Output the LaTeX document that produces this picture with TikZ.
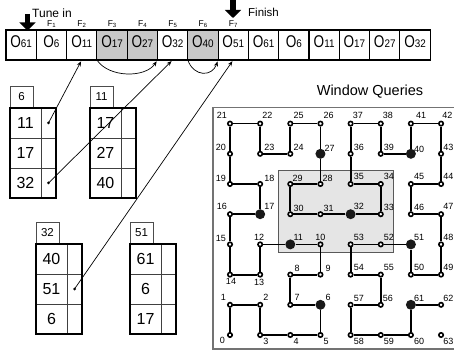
\documentclass[tikz,border=0pt]{standalone}
\usepackage{fontspec}
\setmainfont{Liberation Sans}
\usetikzlibrary{arrows.meta}
\definecolor{cellgray}{RGB}{200,200,200}
\newcommand\Obj[1]{{\fontsize{17}{17}\selectfont\scalebox{0.8}[1]{O}}{\fontsize{11}{11}\selectfont\scalebox{0.9}[1]{#1}}}
\newcommand\Flab[1]{F\raisebox{-0.8pt}{\fontsize{6}{6}\selectfont #1}}
\tikzset{
  arrcell/.style={draw, line width=1.1pt, minimum width=30.3pt, minimum height=30pt, inner sep=0pt, outer sep=0pt, text height=12pt, text depth=6pt},
  flabel/.style={font=\fontsize{8.5}{8.5}\selectfont, inner sep=0pt, anchor=base},
  keycell/.style={draw=black!75, line width=0.7pt, minimum width=31pt, minimum height=30pt, inner sep=0pt, outer sep=0pt, anchor=north west, font=\fontsize{16}{16}\selectfont},
  ptrcell/.style={draw=black!75, line width=0.7pt, minimum width=15pt, minimum height=30pt, inner sep=0pt, outer sep=0pt, anchor=north west},
  tabbox/.style={draw=black!70, line width=0.6pt, minimum width=23pt, minimum height=22pt, inner sep=0pt, outer sep=0pt, font=\fontsize{11.5}{12}\selectfont},
  blockframe/.style={line width=1.6pt},
  ptrdot/.style={circle, fill=black, minimum size=3pt, inner sep=0pt},
  ptrarrow/.style={line width=0.7pt, -{Stealth[length=5pt,width=4pt]}, shorten >=1.5pt},
  bigarrow/.style={line width=5.5pt, -{Triangle[length=8pt,width=16pt]}},
  panelframe/.style={draw=black!55, line width=1.3pt},
  querybox/.style={draw=black!65, fill=black!10, line width=0.9pt},
  gedge/.style={line width=1.8pt},
  doto/.style={circle, draw, fill=white, line width=1.6pt, minimum size=4.4pt, inner sep=0pt},
  dotf/.style={circle, fill=black!90, minimum size=10pt, inner sep=0pt},
  glabel/.style={font=\fontsize{9}{9}\selectfont, inner sep=0pt},
  bigtext/.style={inner sep=0pt, anchor=base west}
}
\begin{document}
\begin{tikzpicture}[x=1pt,y=-1pt]
\useasboundingbox (0,0) rectangle (454,352);

% ---- top array ----
\foreach \t/\f [count=\i from 0] in {61/white,6/white,11/white,17/cellgray,27/cellgray,32/white,40/cellgray,51/white,61/white,6/white,11/white,17/white,27/white,32/white}
  \node[arrcell, fill=\f] (c\i) at ({6+30.3*(\i+0.5)},45) {\Obj{\t}};
\foreach \k in {1,...,7}
  \node[flabel] (f\k) at ({6+30.3*(\k+0.5)},27) {\Flab{\k}};

\coordinate (tunetop) at (27.5,14);
\coordinate (tunetip) at (27.5,30.5);
\draw[bigarrow] (tunetop) -- (tunetip);
\node[bigtext, font=\fontsize{12}{12}\selectfont] (tunein) at (32,18) {Tune in};
\coordinate (fintop) at (233,0);
\coordinate (fintip) at (233,18);
\draw[bigarrow] (fintop) -- (fintip);
\node[bigtext, font=\fontsize{11.5}{12}\selectfont] (finish) at (248,17) {Finish};

% ---- blocks ----
\foreach \bn/\bx/\by/\ka/\kb/\kc in {6/10/108/11/17/32, 11/90/108/17/27/40, 32/36/244/40/51/6, 51/130/244/61/6/17}{
  \node[tabbox, anchor=south west] (t\bn) at (\bx,\by) {\bn};
  \node[keycell] (ka\bn) at (\bx,\by) {\ka};
  \node[keycell] (kb\bn) at (\bx,\by+30) {\kb};
  \node[keycell] (kc\bn) at (\bx,\by+60) {\kc};
  \node[ptrcell] (pa\bn) at (\bx+31,\by) {};
  \node[ptrcell] (pb\bn) at (\bx+31,\by+30) {};
  \node[ptrcell] (pc\bn) at (\bx+31,\by+60) {};
  \draw[blockframe] (ka\bn.north west) rectangle (pc\bn.south east);
}
\node[ptrdot] (d11) at (pa6.center) {};
\node[ptrdot] (d32) at (pc6.center) {};
\node[ptrdot] (d51) at (pb32.center) {};
\draw[ptrarrow] (d11.center) -- (c2.south);
\draw[ptrarrow] (d32.center) -- (c5.south);
\draw[ptrarrow] (d51.center) -- (c7.south);
\draw[ptrarrow] (c3.south west) .. controls +(12,18) and +(-12,18) .. (c4.south east);
\draw[ptrarrow] (c6.south west) .. controls +(6,17) and +(-6,17) .. (c6.south east);

% ---- window queries ----
\node[font=\fontsize{14.5}{15}\selectfont, anchor=base, inner sep=0pt] (title) at (370,95.5) {Window Queries};
\draw[panelframe] (213,107.5) rectangle (457,349);
\draw[querybox] (278,170) rectangle (393,252);

\foreach \n/\c/\r/\s in {0/0/0/o,1/0/1/o,2/1/1/o,3/1/0/o,4/2/0/o,5/3/0/o,6/3/1/f,7/2/1/o,8/2/2/o,9/3/2/o,10/3/3/o,11/2/3/f,12/1/3/o,13/1/2/o,14/0/2/o,15/0/3/o,16/0/4/o,17/1/4/f,18/1/5/o,19/0/5/o,20/0/6/o,21/0/7/o,22/1/7/o,23/1/6/o,24/2/6/o,25/2/7/o,26/3/7/o,27/3/6/f,28/3/5/o,29/2/5/o,30/2/4/o,31/3/4/o,32/4/4/f,33/5/4/o,34/5/5/o,35/4/5/o,36/4/6/o,37/4/7/o,38/5/7/o,39/5/6/o,40/6/6/f,41/6/7/o,42/7/7/o,43/7/6/o,44/7/5/o,45/6/5/o,46/6/4/o,47/7/4/o,48/7/3/o,49/7/2/o,50/6/2/o,51/6/3/f,52/5/3/o,53/4/3/o,54/4/2/o,55/5/2/o,56/5/1/o,57/4/1/o,58/4/0/o,59/5/0/o,60/6/0/o,61/6/1/f,62/7/1/o,63/7/0/o}
  \node[dot\s] (h\n) at ({230+30.15*\c},{335-30.2*\r}) {};

\foreach \i [remember=\i as \p (initially 0)] in {1,...,62}
  \draw[gedge] (h\p) -- (h\i);

\foreach \n/\a/\dx/\dy in {0/north east/-5/2, 1/south east/-4/-4, 2/south west/3/-4, 3/north west/3/3, 4/north west/3/3, 5/north west/3/3, 6/south west/5/-4, 7/south west/4/-4, 8/south west/4/-3, 9/south west/5/-3, 10/south/0/-4, 11/south west/3/-4, 12/south/-1/-4, 13/north/-1/4, 14/north/1/4, 15/south east/-4/-3, 16/south east/-3/-4, 17/south west/4/-4, 18/south west/4/-2, 19/south east/-4/-2, 20/south east/-4/-3, 21/south east/-3/-5, 22/south west/2/-5, 23/south west/4/-3, 24/south west/3/-3, 25/south west/3/-5, 26/south west/3/-5, 27/south west/4/-2, 28/south west/2/-2, 29/south west/2/-2, 30/south west/3/-2, 31/south west/3/-2, 32/south west/3/-4, 33/south west/3/-3, 34/south west/3/-4, 35/south west/3/-4, 36/south west/3/-3, 37/south west/2/-5, 38/south west/2/-5, 39/south west/3/-3, 40/south west/3/-1, 41/south west/5/-5, 42/south west/1/-5, 43/south west/2/-3, 44/south west/2/-4, 45/south west/3/-4, 46/south west/3/-3, 47/south west/2/-4, 48/south west/2/-4, 49/south west/2/-4, 50/south west/3/-4, 51/south west/3/-4, 52/south west/3/-4, 53/south west/3/-4, 54/south west/3/-4, 55/south west/3/-4, 56/south west/2/-3, 57/south west/3/-3, 58/north west/3/3, 59/north west/3/3, 60/north west/3/3, 61/south west/3/-3, 62/south west/2/-3, 63/north west/2/3}
  \node[glabel, anchor=\a] (l\n) at ([shift={(\dx,\dy)}]h\n.center) {\n};
\end{tikzpicture}
\end{document}
